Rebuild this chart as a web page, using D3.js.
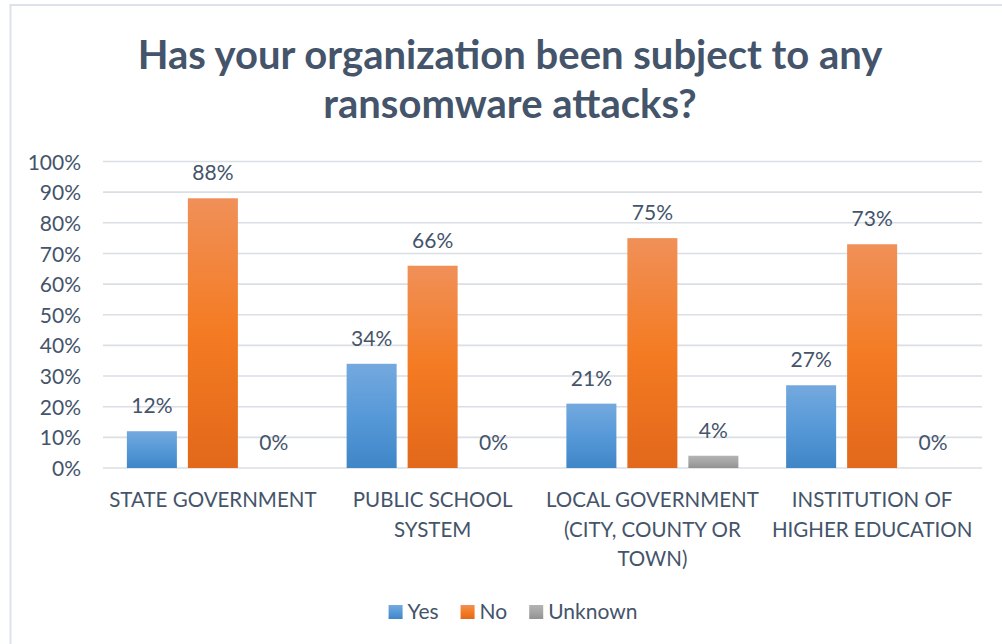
<!DOCTYPE html>
<html>
<head>
<meta charset="utf-8">
<script src="https://cdn.jsdelivr.net/npm/d3@7/dist/d3.min.js"></script>
<style>
  html, body { margin: 0; padding: 0; background: #fff; }
  svg { display: block; }
  text { font-family: Lato, "Open Sans", sans-serif; fill: #44546a; }
</style>
</head>
<body>
<svg id="chart" width="1002" height="644"></svg>
<script>
const title = ["Has your organization been subject to any", "ransomware attacks?"];
const categories = ["STATE GOVERNMENT", "PUBLIC SCHOOL SYSTEM", "LOCAL GOVERNMENT (CITY, COUNTY OR TOWN)", "INSTITUTION OF HIGHER EDUCATION"];
const categoryLines = [
  ["STATE GOVERNMENT"],
  ["PUBLIC SCHOOL", "SYSTEM"],
  ["LOCAL GOVERNMENT", "(CITY, COUNTY OR", "TOWN)"],
  ["INSTITUTION OF", "HIGHER EDUCATION"]
];
const seriesNames = ["Yes", "No", "Unknown"];
const yesValues = [12, 34, 21, 27];
const noValues = [88, 66, 75, 73];
const unknownValues = [0, 0, 4, 0];
const yTicks = [0, 10, 20, 30, 40, 50, 60, 70, 80, 90, 100];

const seriesValues = [yesValues, noValues, unknownValues];
const gradients = [
  ["#74a9de", "#5799d8", "#3f86c7"],
  ["#f09058", "#f47b22", "#e2681b"],
  ["#b3b3b3", "#a5a5a5", "#929292"]
];

const svg = d3.select("#chart");
const defs = svg.append("defs");
gradients.forEach((g, i) => {
  const lg = defs.append("linearGradient").attr("id", "grad" + i)
    .attr("x1", 0).attr("y1", 0).attr("x2", 0).attr("y2", 1);
  lg.append("stop").attr("offset", "0%").attr("stop-color", g[0]);
  lg.append("stop").attr("offset", "50%").attr("stop-color", g[1]);
  lg.append("stop").attr("offset", "100%").attr("stop-color", g[2]);
});

// chart frame
svg.append("rect").attr("x", 10.5).attr("y", 5).attr("width", 1010).attr("height", 660)
  .attr("fill", "#fff").attr("stroke", "#dde2ea").attr("stroke-width", 2);

// title
svg.append("g").selectAll("text").data(title).join("text")
  .attr("x", 510).attr("y", (d, i) => 69 + i * 49)
  .attr("text-anchor", "middle")
  .style("font-size", "40px").style("font-weight", "bold")
  .text(d => d);

const plot = { left: 103, right: 982, top: 161.5, bottom: 468 };

const y = d3.scaleLinear().domain([0, 100]).range([plot.bottom, plot.top]);
const x0 = d3.scaleBand().domain(categories).range([plot.left, plot.right]).padding(0);
const groupW = 172;
const x1 = d3.scaleBand().domain(seriesNames).range([0, groupW]).paddingInner(0.18).paddingOuter(0);

// gridlines
svg.append("g").selectAll("line").data(yTicks).join("line")
  .attr("x1", plot.left).attr("x2", plot.right)
  .attr("y1", d => y(d)).attr("y2", d => y(d))
  .attr("stroke", "#dadee5").attr("stroke-width", 1.6);

// y axis labels
const yAxis = d3.axisLeft(y).tickValues(yTicks).tickFormat(d => d + "%").tickSize(0).tickPadding(0);
const yg = svg.append("g").attr("transform", "translate(81,0)").call(yAxis);
yg.select(".domain").remove();
yg.selectAll("text").style("font-size", "21px").style("fill", "#44546a")
  .style("font-family", "Lato, sans-serif").attr("dy", "0.36em");

// bars
const groups = svg.append("g").selectAll("g").data(categories).join("g")
  .attr("transform", d => `translate(${x0(d) + (x0.bandwidth() - groupW) / 2},0)`);

const barData = (c, ci) => seriesNames.map((s, si) => ({ s, si, v: seriesValues[si][ci] }));

groups.selectAll("rect").data((c, ci) => barData(c, ci)).join("rect")
  .attr("x", d => x1(d.s)).attr("width", x1.bandwidth())
  .attr("y", d => y(d.v)).attr("height", d => plot.bottom - y(d.v))
  .attr("fill", d => `url(#grad${d.si})`);

groups.selectAll("text.val").data((c, ci) => barData(c, ci)).join("text")
  .attr("class", "val")
  .attr("x", d => x1(d.s) + x1.bandwidth() / 2)
  .attr("y", d => y(d.v) - 18)
  .attr("text-anchor", "middle")
  .style("font-size", "21px")
  .text(d => d.v + "%");

// category labels
const xg = svg.append("g").selectAll("text").data(categories).join("text")
  .attr("x", d => x0(d) + x0.bandwidth() / 2)
  .attr("y", 507)
  .attr("text-anchor", "middle")
  .style("font-size", "20.5px");
xg.selectAll("tspan").data((d, i) => categoryLines[i]).join("tspan")
  .attr("x", function () { return d3.select(this.parentNode).attr("x"); })
  .attr("dy", (d, i) => i === 0 ? 0 : 29.5)
  .text(d => d);

// legend
const legend = svg.append("g");
let lx = 0;
seriesNames.forEach((s, i) => {
  const g = legend.append("g");
  g.append("rect").attr("x", 0).attr("y", 605).attr("width", 14).attr("height", 14)
    .attr("fill", `url(#grad${i})`);
  const t = g.append("text").attr("x", 19).attr("y", 619).style("font-size", "21px").text(s);
  const w = 19 + t.node().getComputedTextLength();
  g.attr("transform", `translate(${lx},0)`);
  lx += w + 22;
});
const totalW = lx - 22;
legend.attr("transform", `translate(${513 - totalW / 2},0)`);
</script>
</body>
</html>
